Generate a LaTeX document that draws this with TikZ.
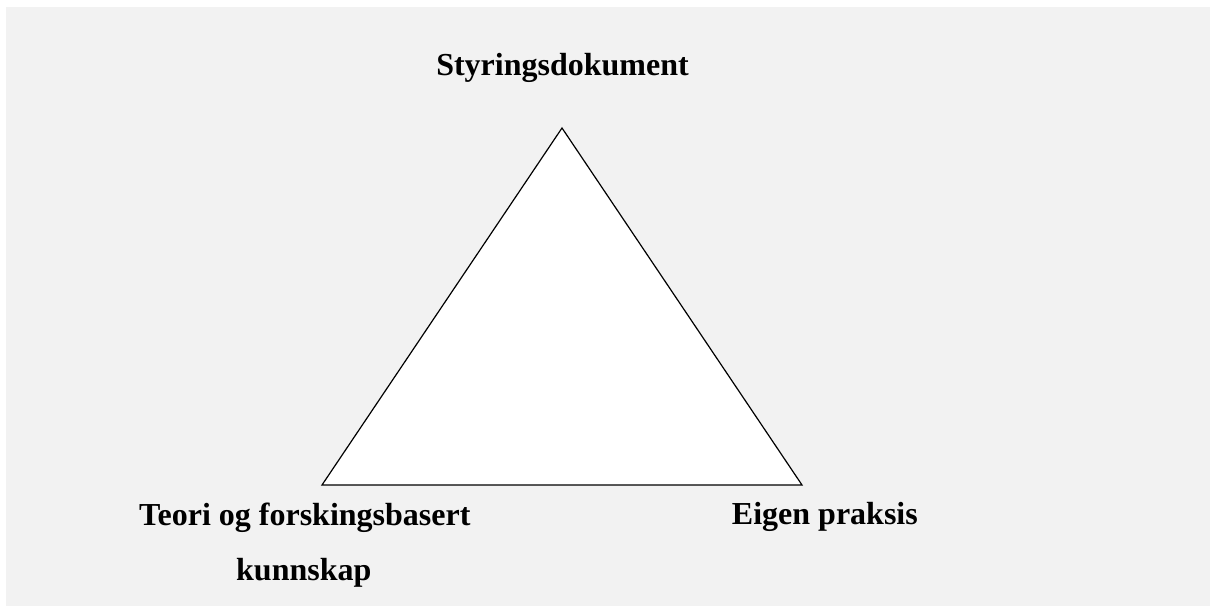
\documentclass[tikz,border=0pt]{standalone}
\usepackage{fontspec}
\setmainfont{Liberation Serif}
\definecolor{bggrey}{HTML}{F2F2F2}
\tikzset{lbl/.style={inner sep=0pt, font=\bfseries\fontsize{32}{38}\selectfont}}
\begin{document}
\begin{tikzpicture}[x=1pt,y=-1pt]
\useasboundingbox (0,0) rectangle (1210,607);
\fill[white] (0,0) rectangle (1210,607);
\fill[bggrey] (6,7) rectangle (1210,606);
\coordinate (apex) at (562,128);
\coordinate (bl) at (322,485);
\coordinate (br) at (802,485);
\draw[fill=white, line width=1.2pt, line join=miter] (apex) -- (bl) -- (br) -- cycle;
\node[lbl, anchor=base] (top) at (562.5,76) {Styringsdokument};
\node[lbl, anchor=base west] (left1) at (139,525) {Teori og forskingsbasert};
\node[lbl, anchor=base west] (left2) at (236,580) {kunnskap};
\node[lbl, anchor=base east] (right) at (918,524) {Eigen praksis};
\end{tikzpicture}
\end{document}
